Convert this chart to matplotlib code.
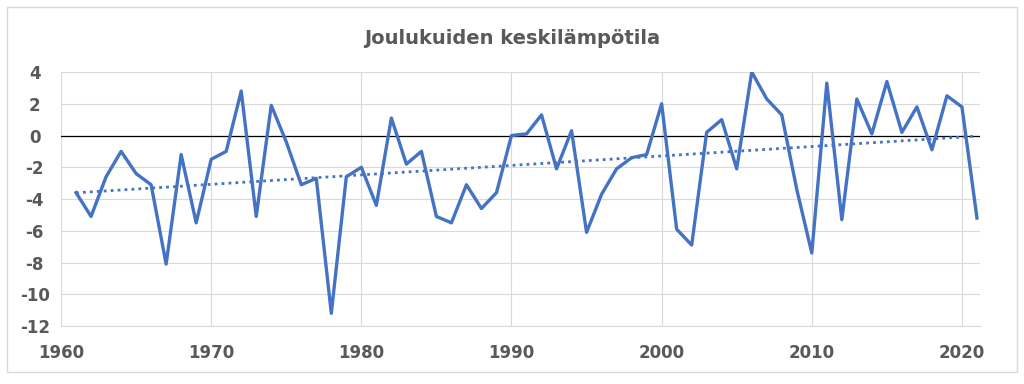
import numpy as np
import matplotlib.pyplot as plt
from matplotlib.patches import Rectangle

plt.rcParams["axes.unicode_minus"] = False

vuodet = list(range(1961, 2022))  # years
lampotila = [
    -3.6, -5.1, -2.6, -1.0, -2.4, -3.1, -8.1, -1.2, -5.5, -1.5,  # 1961-1970
    -1.0, 2.8, -5.1, 1.9, -0.4, -3.1, -2.7, -11.2, -2.6, -2.0,  # 1971-1980
    -4.4, 1.1, -1.8, -1.0, -5.1, -5.5, -3.1, -4.6, -3.6, 0.0,  # 1981-1990
    0.1, 1.3, -2.1, 0.3, -6.1, -3.7, -2.1, -1.4, -1.2, 2.0,  # 1991-2000
    -5.9, -6.9, 0.2, 1.0, -2.1, 4.0, 2.3, 1.3, -3.4, -7.4,  # 2001-2010
    3.3, -5.3, 2.3, 0.1, 3.4, 0.2, 1.8, -0.9, 2.5, 1.8,  # 2011-2020
    -5.2,  # 2021
]
x_tikit = [1960, 1970, 1980, 1990, 2000, 2010, 2020]
y_tikit = [-12, -10, -8, -6, -4, -2, 0, 2, 4]

sininen = "#4472C4"
harmaa = "#595959"

fig, ax = plt.subplots(figsize=(10.24, 3.84), dpi=100)
fig.subplots_adjust(left=0.0596, right=0.957, bottom=0.151, top=0.8125)

# reunus kuvan ympärillä
fig.patches.append(Rectangle((0.007, 0.03), 0.986, 0.952, transform=fig.transFigure,
                             fill=False, edgecolor="#d9d9d9", linewidth=1))

ax.plot(vuodet, lampotila, color=sininen, linewidth=2.4)

# lineaarinen trendi
k, b = np.polyfit(vuodet, lampotila, 1)
trendi = [k * v + b for v in vuodet]
ax.plot(vuodet, trendi, color=sininen, linewidth=2, linestyle=(0, (1, 1.5)))

ax.axhline(0, color="black", linewidth=0.9, zorder=1)

ax.set_xlim(1960, 2021.2)
ax.set_ylim(-12, 4)
ax.set_xticks(x_tikit)
ax.set_yticks(y_tikit)
ax.grid(True, color="#d9d9d9", linewidth=0.8)
ax.set_axisbelow(True)
for s in ax.spines.values():
    s.set_visible(False)
ax.spines["bottom"].set_visible(True)
ax.spines["bottom"].set_color("#d9d9d9")
ax.tick_params(length=0, labelsize=12, labelcolor=harmaa)
ax.tick_params(axis="x", pad=13)
ax.tick_params(axis="y", pad=19)
for lab in ax.get_xticklabels() + ax.get_yticklabels():
    lab.set_fontweight("bold")
for lab in ax.get_yticklabels():
    lab.set_horizontalalignment("center")

fig.suptitle("Joulukuiden keskilämpötila", fontsize=14, color=harmaa,
             fontweight="semibold", y=0.925)

fig.savefig("out.png")
